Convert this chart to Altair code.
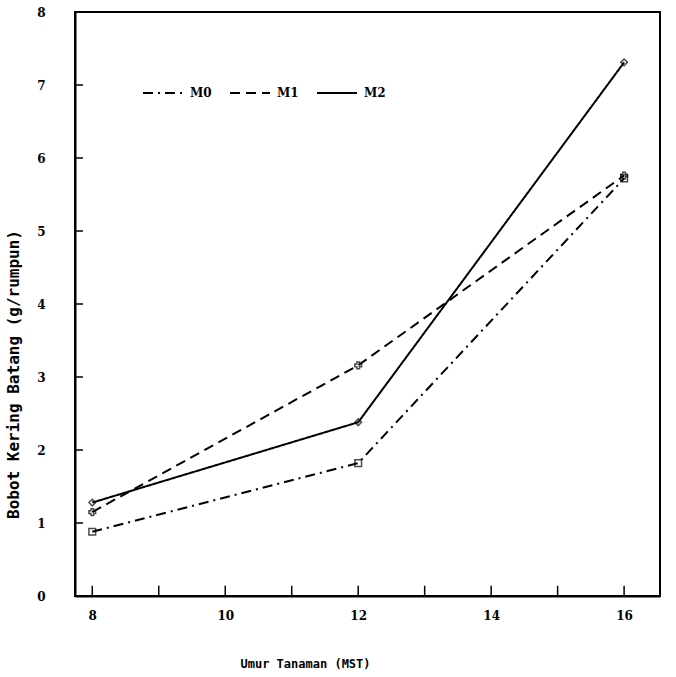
import altair as alt
import pandas as pd

weeks = [8, 12, 16]
m0 = [0.88, 1.82, 5.72]
m1 = [1.15, 3.16, 5.76]
m2 = [1.28, 2.38, 7.31]
series_names = ["M0", "M1", "M2"]
marker_shapes = ["square", "cross", "diamond"]
x_ticks = [8, 9, 10, 11, 12, 13, 14, 15, 16]
y_ticks = [0, 1, 2, 3, 4, 5, 6, 7, 8]

rows = []
for name, vals in zip(series_names, [m0, m1, m2]):
    for w, v in zip(weeks, vals):
        rows.append({"umur": w, "bobot": v, "seri": name})
df = pd.DataFrame(rows)

W, H = 585, 584
FONT = "DejaVu Serif"
MONO = "DejaVu Sans Mono"
xs = alt.Scale(domain=[7.74, 16.54], nice=False, zero=False)
ys = alt.Scale(domain=[0, 8], nice=False)

base = alt.Chart(df)

lines = base.mark_line(color="black", strokeWidth=2).encode(
    x=alt.X("umur:Q", scale=xs,
            axis=alt.Axis(values=x_ticks, format="d",
                          labelExpr="datum.value % 2 == 0 ? datum.label : ''",
                          ticks=False, grid=False, domainColor="black", domainWidth=2,
                          labelFont=FONT, labelFontWeight="bold", labelFontSize=12,
                          labelColor="black", labelPadding=14,
                          title="Umur Tanaman (MST)", titleFont=MONO, titleFontWeight="bold",
                          titleFontSize=12, titleColor="black", titleAnchor="start",
                          titleAlign="left", titleX=165, titleY=62)),
    y=alt.Y("bobot:Q", scale=ys,
            axis=alt.Axis(values=y_ticks, format="d", ticks=False, grid=False,
                          domainColor="black", domainWidth=2, labelFont=FONT,
                          labelFontWeight="bold", labelFontSize=12, labelColor="black",
                          labelPadding=30,
                          title="Bobot Kering Batang (g/rumpun)", titleFont=MONO,
                          titleFontWeight="bold", titleFontSize=16, titleColor="black",
                          titleX=-54, titleY=362, titleAngle=-90, titleAlign="center")),
    strokeDash=alt.StrokeDash("seri:N",
        scale=alt.Scale(domain=series_names, range=[[10, 5, 2, 5], [10, 6], [1, 0]]),
        legend=alt.Legend(title=None, orient="none", legendX=67, legendY=60,
                          direction="horizontal", symbolType="stroke", symbolSize=1600,
                          symbolStrokeColor="black", symbolStrokeWidth=2,
                          labelFont=FONT, labelFontWeight="bold", labelFontSize=12,
                          labelColor="black", columnPadding=14, labelOffset=6)),
)

point_layers = []
for name, shp in zip(series_names, marker_shapes):
    point_layers.append(
        base.transform_filter(alt.datum.seri == name)
        .mark_point(color="black", filled=False, size=45, strokeWidth=1.5, shape=shp)
        .encode(x=alt.X("umur:Q", scale=xs), y=alt.Y("bobot:Q", scale=ys))
    )

xt = pd.DataFrame({"t": x_ticks})
xtick_layer = alt.Chart(xt).mark_rule(color="black", strokeWidth=1.5).encode(
    x=alt.X("t:Q", scale=xs), y=alt.datum(0, scale=ys), y2=alt.datum(0.14))

yt = pd.DataFrame({"t": y_ticks})
ytick_layer = alt.Chart(yt).mark_rule(color="black", strokeWidth=1.5).encode(
    y=alt.Y("t:Q", scale=ys), x=alt.datum(7.74, scale=xs), x2=alt.datum(7.86))

chart = alt.layer(xtick_layer, ytick_layer, lines, *point_layers).properties(
    width=W, height=H,
    autosize=alt.AutoSizeParams(type="none"),
    padding={"left": 75, "top": 12, "right": 16, "bottom": 81},
    background="white",
).configure_view(stroke="black", strokeWidth=2)

chart.save("out.html", embed_options={"renderer": "svg", "actions": False})
